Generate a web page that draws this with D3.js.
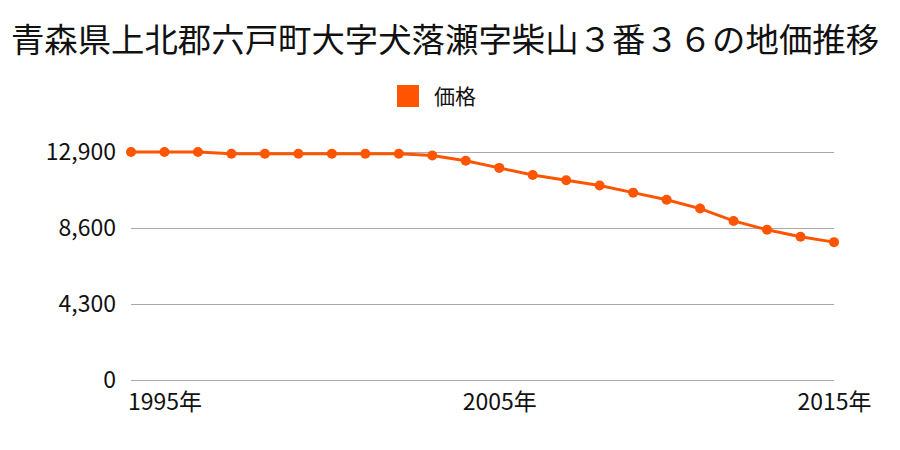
<!DOCTYPE html>
<html><head><meta charset="utf-8">
<script src="https://cdn.jsdelivr.net/npm/d3@7"></script>
<style>body{margin:0;background:#fff;}svg{display:block;font-family:"Noto Sans CJK JP","Noto Sans",sans-serif;}</style>
</head><body>
<svg id="c" width="900" height="450"></svg>
<script>
const title = "青森県上北郡六戸町大字犬落瀬字柴山３番３６の地価推移";
const seriesName = "価格";
const years = [1994,1995,1996,1997,1998,1999,2000,2001,2002,2003,2004,2005,2006,2007,2008,2009,2010,2011,2012,2013,2014,2015];
const prices = [12900,12900,12900,12800,12800,12800,12800,12800,12800,12700,12400,12000,11600,11300,11000,10600,10200,9700,9000,8500,8100,7800];
const yTicks = [0,4300,8600,12900];
const xTicks = [1995,2005,2015];
const color = "#ff5500";

const svg = d3.select("#c");
const x = d3.scaleLinear().domain([1994,2015]).range([131,834]);
const y = d3.scaleLinear().domain([0,12900]).range([380,152]);

svg.append("text").attr("x",445).attr("y",52).attr("text-anchor","middle")
  .attr("font-size",33.4).attr("fill","#111").text(title);

// legend
svg.append("rect").attr("x",397).attr("y",85).attr("width",22).attr("height",22).attr("fill",color);
svg.append("text").attr("x",434).attr("y",104).attr("font-size",21).attr("fill","#111").text(seriesName);

// grid
const yAxis = d3.axisLeft(y).tickValues(yTicks).tickSize(-(834-131)).tickPadding(15).tickFormat(d3.format(","));
const gy = svg.append("g").attr("transform","translate(131,0)").call(yAxis);
gy.select(".domain").remove();
gy.selectAll(".tick line").attr("stroke","#aaa").attr("stroke-width",1);
gy.selectAll(".tick text").attr("font-size",23).attr("fill","#111").attr("font-family",'"Noto Sans CJK JP",sans-serif');

const xAxis = d3.axisBottom(x).tickValues(xTicks).tickSize(0).tickPadding(14).tickFormat(d=>d+"年");
const gx = svg.append("g").attr("transform","translate(0,380)").call(xAxis);
gx.select(".domain").remove();
gx.selectAll(".tick text").attr("font-size",23).attr("fill","#111").attr("font-family",'"Noto Sans CJK JP",sans-serif');

const data = years.map((yr,i)=>({yr, v:prices[i]}));
svg.append("path").datum(data).attr("fill","none").attr("stroke",color).attr("stroke-width",3)
  .attr("d", d3.line().x(d=>x(d.yr)).y(d=>y(d.v)));
svg.selectAll("circle.pt").data(data).enter().append("circle").attr("class","pt")
  .attr("cx",d=>x(d.yr)).attr("cy",d=>y(d.v)).attr("r",5).attr("fill",color);
</script>
</body></html>
